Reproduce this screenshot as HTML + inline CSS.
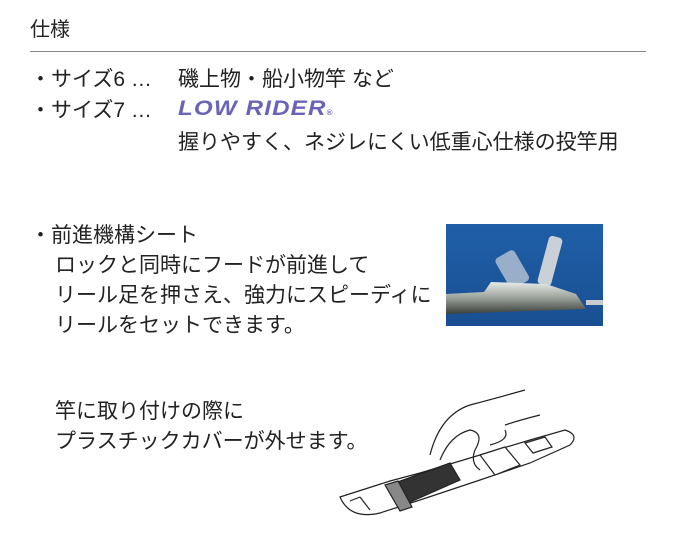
<!DOCTYPE html>
<html><head><meta charset="utf-8"><style>
body{margin:0;width:675px;height:543px;background:#fff;position:relative;overflow:hidden;font-family:"Liberation Sans","Noto Sans CJK JP",sans-serif;color:#222}
.t{position:absolute;white-space:nowrap;font-size:21px;line-height:24px}
</style></head><body>
<div class="t" style="left:30px;top:18px;font-size:20px">仕様</div>
<div style="position:absolute;left:30px;top:51px;width:616px;height:1px;background:#888"></div>
<div class="t" style="left:30px;top:68px">・サイズ6 …</div>
<div class="t" style="left:178px;top:68px">磯上物・船小物竿 など</div>
<div class="t" style="left:30px;top:99px">・サイズ7 …</div>
<div class="t" style="left:178px;top:97px;font-style:italic;font-weight:bold;color:#6a63b8;font-size:21px;letter-spacing:1px;transform:scaleX(1.15);transform-origin:left">LOW RIDER<span style="font-size:7px">®</span></div>
<div class="t" style="left:178px;top:131px">握りやすく、ネジレにくい低重心仕様の投竿用</div>
<div class="t" style="left:30px;top:224px">・前進機構シート</div>
<div class="t" style="left:55px;top:254px">ロックと同時にフードが前進して</div>
<div class="t" style="left:55px;top:284px">リール足を押さえ、強力にスピーディに</div>
<div class="t" style="left:55px;top:314px">リールをセットできます。</div>
<svg style="position:absolute;left:446px;top:224px" width="157" height="102">
<defs><linearGradient id="b" x1="0" y1="0" x2="0" y2="1"><stop offset="0" stop-color="#1f5fa8"/><stop offset="1" stop-color="#1a4f92"/></linearGradient>
<linearGradient id="m" x1="0" y1="0" x2="0" y2="1"><stop offset="0" stop-color="#e8ecea"/><stop offset=".5" stop-color="#9aa09a"/><stop offset="1" stop-color="#3a3f38"/></linearGradient></defs>
<rect width="157" height="102" fill="url(#b)"/>
<rect x="55" y="28" width="22" height="35" rx="4" fill="#b8c4d4" opacity=".8" transform="rotate(-30 66 45)"/>
<rect x="97" y="12" width="14" height="50" rx="4" fill="#c9d0d8" transform="rotate(15 104 37)"/>
<path d="M0 70 L38 68 L45 58 L100 60 L130 70 L140 85 L0 90 Z" fill="url(#m)"/>
<rect x="140" y="76" width="17" height="5" fill="#c8ccd0"/>
</svg>
<div class="t" style="left:55px;top:400px">竿に取り付けの際に</div>
<div class="t" style="left:55px;top:430px">プラスチックカバーが外せます。</div>
<svg style="position:absolute;left:330px;top:385px" width="250" height="140" fill="none" stroke="#222" stroke-width="1.2">
<path d="M10 112 L60 96 L90 88 L150 70 L200 55 L235 45 Q250 50 240 60 L200 78 L150 95 L90 115 L50 128 Q20 135 10 112 Z" fill="#fff"/>
<path d="M65 98 L120 78 L130 95 L78 118 Z" fill="#333"/>
<path d="M55 100 L68 96 L82 122 L70 126 Z" fill="#888"/>
<path d="M150 70 L175 62 L190 80 L165 90 Z" fill="#fff"/>
<path d="M195 58 L215 52 L222 62 L203 68 Z"/>
<path d="M100 70 Q110 30 140 20 Q170 12 195 5 M175 40 Q190 35 210 30 M110 75 Q120 50 140 45 Q155 48 145 65 Q140 78 150 85 M160 60 Q180 55 175 45"/>
<path d="M40 125 L30 112 M30 112 L20 116"/>
</svg>
</body></html>
